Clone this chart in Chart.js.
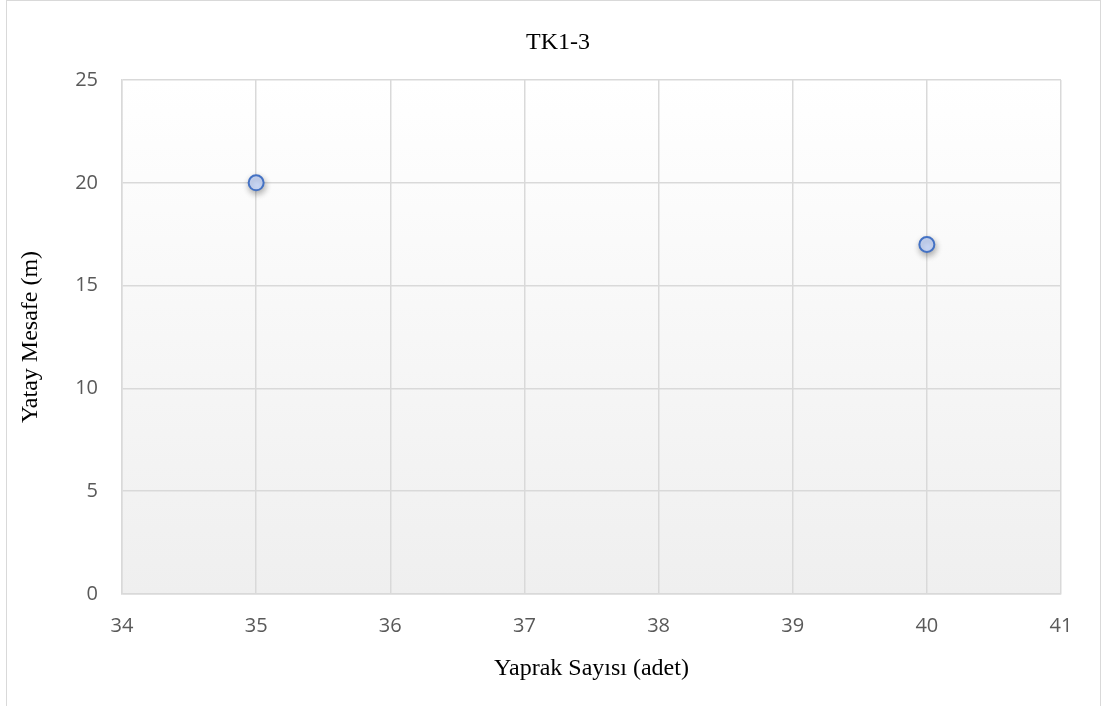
<!DOCTYPE html>
<html>
<head>
<meta charset="utf-8">
<script src="https://cdn.jsdelivr.net/npm/chart.js@4"></script>
<style>
  html, body { margin: 0; padding: 0; background: #fff; }
  #wrap { position: relative; width: 1103px; height: 706px; overflow: hidden; }
  #frame { position: absolute; left: 6px; top: 0; width: 1095px; height: 720px; border: 1px solid #d9d9d9; box-sizing: border-box; }
  #chartCanvas { position: absolute; left: 0; top: 0; }
</style>
</head>
<body>
<div id="wrap">
  <div id="frame"></div>
  <canvas id="chartCanvas" width="1103" height="706"></canvas>
</div>
<script>
var chartTitle = 'TK1-3';
var xAxisTitle = 'Yaprak Sayısı (adet)';
var yAxisTitle = 'Yatay Mesafe (m)';
var leafCounts = [35, 40];
var horizontalDistances = [20, 17];
var xRange = [34, 41];
var yRange = [0, 25];

var plotBackground = {
  id: 'plotBackground',
  beforeDraw: function(chart) {
    var a = chart.chartArea;
    var ctx = chart.ctx;
    var g = ctx.createLinearGradient(0, a.top, 0, a.bottom);
    g.addColorStop(0, '#ffffff');
    g.addColorStop(1, '#efefef');
    ctx.save();
    ctx.fillStyle = g;
    ctx.fillRect(a.left, a.top, a.right - a.left, a.bottom - a.top);
    ctx.restore();
  }
};

var markerShadow = {
  id: 'markerShadow',
  beforeDatasetsDraw: function(chart) {
    var ctx = chart.ctx;
    ctx.save();
    ctx.shadowColor = 'rgba(0,0,0,0.3)';
    ctx.shadowBlur = 6;
    ctx.shadowOffsetX = 1;
    ctx.shadowOffsetY = 3;
  },
  afterDatasetsDraw: function(chart) {
    chart.ctx.restore();
  }
};

var titleText = {
  id: 'titleText',
  afterDraw: function(chart) {
    var ctx = chart.ctx;
    ctx.save();
    ctx.font = '24px "Liberation Serif", "Times New Roman", serif';
    ctx.fillStyle = '#000';
    ctx.textAlign = 'center';
    ctx.textBaseline = 'alphabetic';
    ctx.fillText(chartTitle, 558, 49);
    ctx.restore();
  }
};

var points = leafCounts.map(function(x, i) {
  return { x: x, y: horizontalDistances[i] };
});

var tickFont = { family: '"Open Sans", "DejaVu Sans", sans-serif', size: 20 };
var axisTitleFont = { family: '"Liberation Serif", "Times New Roman", serif', size: 24 };

new Chart(document.getElementById('chartCanvas'), {
  type: 'scatter',
  data: {
    datasets: [{
      label: chartTitle,
      data: points,
      pointRadius: 7.5,
      pointHoverRadius: 7.5,
      pointBackgroundColor: '#cddbfa',
      pointBorderColor: '#4472c4',
      pointBorderWidth: 2
    }]
  },
  options: {
    responsive: false,
    animation: false,
    events: [],
    layout: { padding: { top: 80, right: 42, left: 0, bottom: 0 } },
    plugins: {
      legend: { display: false },
      tooltip: { enabled: false }
    },
    scales: {
      x: {
        type: 'linear',
        min: xRange[0],
        max: xRange[1],
        afterFit: function(s) { s.height = 112; },
        ticks: { stepSize: 1, color: '#595959', font: tickFont, padding: 20 },
        grid: { color: '#d9d9d9', lineWidth: 1.5, drawTicks: false },
        border: { color: '#d9d9d9', width: 1.5 },
        title: { display: true, text: xAxisTitle, color: '#000', font: axisTitleFont, padding: { top: 0, bottom: 23 } }
      },
      y: {
        type: 'linear',
        min: yRange[0],
        max: yRange[1],
        afterFit: function(s) { s.width = 122; },
        ticks: { stepSize: 5, color: '#595959', font: tickFont, padding: 24 },
        grid: { color: '#d9d9d9', lineWidth: 1.5, drawTicks: false },
        border: { color: '#d9d9d9', width: 1.5 },
        title: { display: true, text: yAxisTitle, color: '#000', font: axisTitleFont, padding: { top: 16, bottom: 0 } }
      }
    }
  },
  plugins: [plotBackground, markerShadow, titleText]
});
</script>
</body>
</html>
